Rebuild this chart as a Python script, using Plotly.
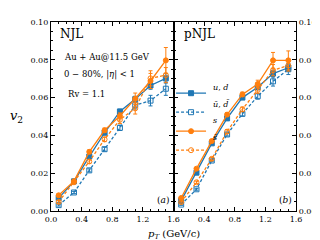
import plotly.graph_objects as go

pt = [0.1, 0.3, 0.5, 0.7, 0.9, 1.1, 1.3, 1.5]

# Panel (a): NJL
ud_a = [0.0068, 0.0157, 0.0288, 0.0414, 0.0527, 0.0592, 0.0664, 0.0702]
udbar_a = [0.0031, 0.0098, 0.0215, 0.0327, 0.0440, 0.0560, 0.0584, 0.0647]
s_a = [0.0083, 0.0158, 0.0313, 0.0427, 0.0503, 0.0594, 0.0688, 0.0797]
sbar_a = [0.0048, 0.0152, 0.0262, 0.0379, 0.0483, 0.0543, 0.0702, 0.0719]
ud_err_a = [0.0005, 0.0005, 0.0007, 0.0009, 0.0011, 0.0015, 0.0020, 0.0025]
udbar_err_a = [0.0005, 0.0006, 0.0008, 0.0010, 0.0014, 0.0020, 0.0028, 0.0035]
s_err_a = [0.0007, 0.0008, 0.0010, 0.0012, 0.0016, 0.0030, 0.0040, 0.0068]
sbar_err_a = [0.0007, 0.0008, 0.0010, 0.0012, 0.0020, 0.0030, 0.0040, 0.0040]

# Panel (b): pNJL
ud_b = [0.0055, 0.0203, 0.0358, 0.0490, 0.0600, 0.0655, 0.0727, 0.0758]
udbar_b = [0.0034, 0.0115, 0.0267, 0.0405, 0.0514, 0.0607, 0.0686, 0.0750]
s_b = [0.0069, 0.0224, 0.0370, 0.0510, 0.0617, 0.0672, 0.0797, 0.0797]
sbar_b = [0.0047, 0.0152, 0.0276, 0.0420, 0.0538, 0.0641, 0.0745, 0.0770]
ud_err_b = [0.0004, 0.0005, 0.0006, 0.0008, 0.0010, 0.0013, 0.0018, 0.0020]
udbar_err_b = [0.0004, 0.0005, 0.0006, 0.0008, 0.0011, 0.0015, 0.0025, 0.0028]
s_err_b = [0.0005, 0.0006, 0.0008, 0.0010, 0.0012, 0.0020, 0.0042, 0.0050]
sbar_err_b = [0.0005, 0.0006, 0.0008, 0.0010, 0.0012, 0.0018, 0.0030, 0.0030]

series_names = ["<i>u</i>, <i>d</i>", "<i>ū</i>, <i>d̄</i>", "<i>s</i>", "<i>s̄</i>"]

x_ticks = [0.0, 0.4, 0.8, 1.2, 1.6]
x_ticks_b = [0.4, 0.8, 1.2, 1.6]
y_ticks = [0.00, 0.02, 0.04, 0.06, 0.08, 0.10]

BLUE = "#1f77b4"
ORANGE = "#ff7f0e"
FONT = "DejaVu Serif"
DASH = "3px,2px"

series_style = [
    (BLUE, "solid", "square"),
    (BLUE, DASH, "square-open"),
    (ORANGE, "solid", "circle"),
    (ORANGE, DASH, "circle-open"),
]

fig = go.Figure()

panels = [
    ("x", "y", [ud_a, udbar_a, s_a, sbar_a], [ud_err_a, udbar_err_a, s_err_a, sbar_err_a], False),
    ("x2", "y2", [ud_b, udbar_b, s_b, sbar_b], [ud_err_b, udbar_err_b, s_err_b, sbar_err_b], True),
]

for xa, ya, vals, errs, show in panels:
    for (col, dash, sym), v, e in zip(series_style, vals, errs):
        fig.add_trace(go.Scatter(
            x=pt, y=v, xaxis=xa, yaxis=ya, name=" ", showlegend=show,
            mode="lines+markers",
            line=dict(color=col, width=1.3, dash=dash),
            marker=dict(symbol=sym, size=5, color=col,
                        line=dict(color=col, width=1)),
            error_y=dict(type="data", array=e, visible=True, color=col,
                         thickness=1, width=2),
        ))

axis_common = dict(
    range=[0, 1.6], showline=True, linecolor="black", linewidth=1.2,
    mirror="ticks", ticks="inside", ticklen=4, tickwidth=1, tickcolor="black",
    showgrid=False, zeroline=False, tickformat=".1f",
    tickfont=dict(family=FONT, size=8, color="black"),
    minor=dict(dtick=0.1, ticks="inside", ticklen=2, tickcolor="black", showgrid=False),
)
yaxis_common = dict(
    range=[0, 0.1], showline=True, linecolor="black", linewidth=1.2,
    mirror="ticks", ticks="inside", ticklen=4, tickwidth=1, tickcolor="black",
    showgrid=False, zeroline=False, tickformat=".2f", tickvals=y_ticks,
    tickfont=dict(family=FONT, size=8, color="black"),
    minor=dict(dtick=0.005, ticks="inside", ticklen=2, tickcolor="black", showgrid=False),
)

fig.update_layout(
    width=320, height=240,
    margin=dict(l=43, r=32, t=10, b=37),
    paper_bgcolor="white", plot_bgcolor="white",
    font=dict(family=FONT, size=8, color="black"),
    xaxis=dict(domain=[0, 0.5], anchor="y", tickvals=x_ticks, **axis_common),
    xaxis2=dict(domain=[0.5, 1.0], anchor="y2", tickvals=x_ticks_b, **axis_common),
    yaxis=dict(anchor="x", side="left", **yaxis_common),
    yaxis2=dict(anchor="x2", side="right", **yaxis_common),
    legend=dict(x=0.49, y=0.70, xanchor="left", yanchor="top",
                bgcolor="rgba(0,0,0,0)", font=dict(family=FONT, size=7),
                tracegroupgap=0, itemwidth=30, borderwidth=0),
    showlegend=True,
)

# legend labels, one per legend row
legend_rows_y = [0.652, 0.564, 0.477, 0.389]
for name, ly in zip(series_names, legend_rows_y):
    fig.add_annotation(text=name, x=0.655, y=ly, xref="paper", yref="paper",
                       xanchor="left", yanchor="middle", showarrow=False,
                       font=dict(family=FONT, size=8))

ann = [
    dict(text="NJL", x=0.03, y=0.985, xref="paper", yref="paper", xanchor="left", yanchor="top", font=dict(size=12)),
    dict(text="pNJL", x=0.535, y=0.985, xref="paper", yref="paper", xanchor="left", yanchor="top", font=dict(size=12)),
    dict(text="Au + Au@11.5 GeV", x=0.045, y=0.815, xref="paper", yref="paper", xanchor="left", yanchor="middle", font=dict(size=8.5)),
    dict(text="0 − 80%, |<i>η</i>| < 1", x=0.045, y=0.72, xref="paper", yref="paper", xanchor="left", yanchor="middle", font=dict(size=8.5)),
    dict(text="Rv = 1.1", x=0.06, y=0.62, xref="paper", yref="paper", xanchor="left", yanchor="middle", font=dict(size=8.5)),
    dict(text="(<i>a</i>)", x=0.49, y=0.06, xref="paper", yref="paper", xanchor="right", yanchor="middle", font=dict(size=9)),
    dict(text="(<i>b</i>)", x=0.99, y=0.06, xref="paper", yref="paper", xanchor="right", yanchor="middle", font=dict(size=9)),
    dict(text="<i>p</i><sub><i>T</i></sub> (GeV/c)", x=0.5, y=-0.125, xref="paper", yref="paper", xanchor="center", yanchor="middle", font=dict(size=10)),
    dict(text="<i>v</i><sub>2</sub>", x=-0.14, y=0.5, xref="paper", yref="paper", xanchor="center", yanchor="middle", font=dict(size=13)),
]
for a in ann:
    a["showarrow"] = False
    fig.add_annotation(**a)

fig.write_html("out.html")
